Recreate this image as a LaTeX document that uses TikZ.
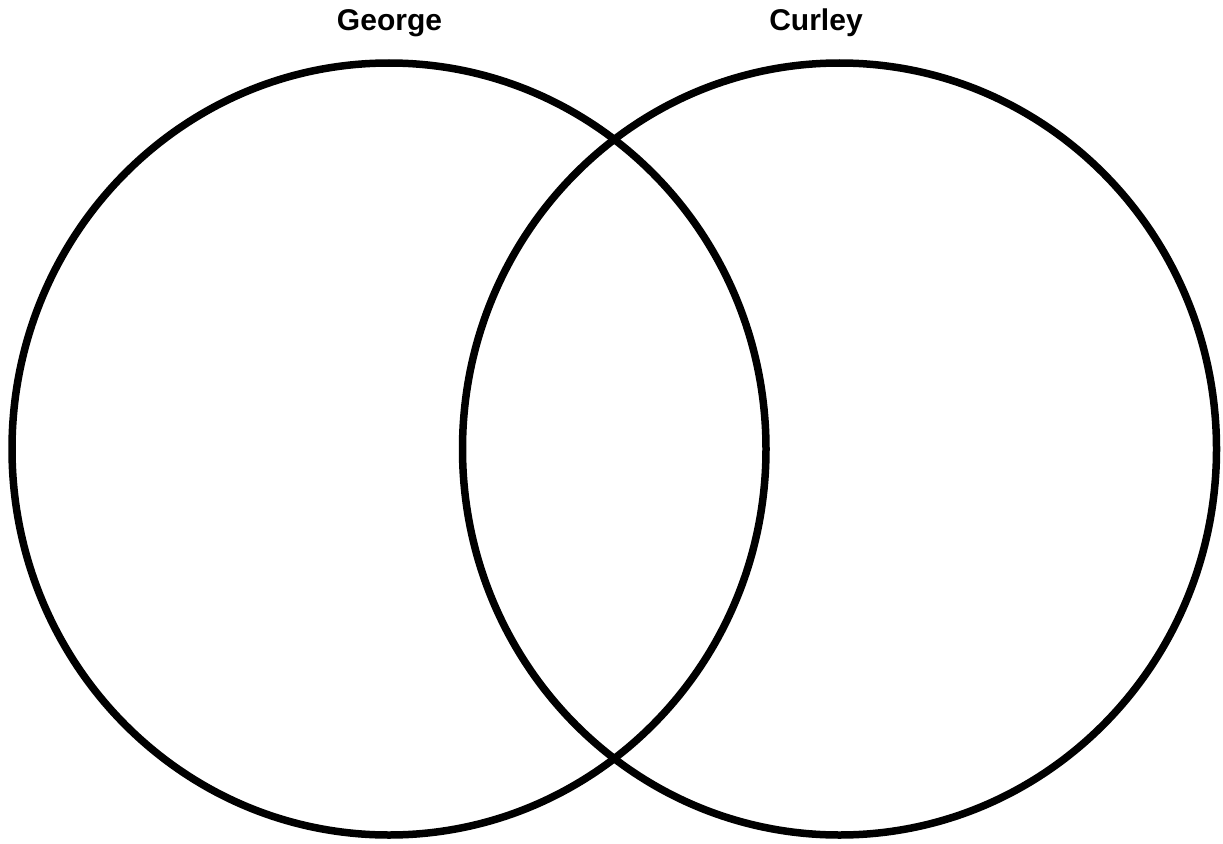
\documentclass[tikz,border=0pt]{standalone}
\usepackage{fontspec}
\setmainfont{Liberation Sans}
\begin{document}
\begin{tikzpicture}[x=1pt,y=-1pt,
  ring/.style={line width=7.5pt, draw=black},
  title/.style={font=\fontsize{30}{34}\selectfont\bfseries, anchor=base, inner sep=0pt}]
\useasboundingbox (0,0) rectangle (1223,843);
\fill[white] (0,0) rectangle (1223,843);
\draw[ring] (389,449) ellipse [x radius=377, y radius=386];
\draw[ring] (839.5,449) ellipse [x radius=377, y radius=386];
\node[title] (george) at (389.5,30.7) {George};
\node[title] (curley) at (816,30.7) {Curley};
\end{tikzpicture}
\end{document}
